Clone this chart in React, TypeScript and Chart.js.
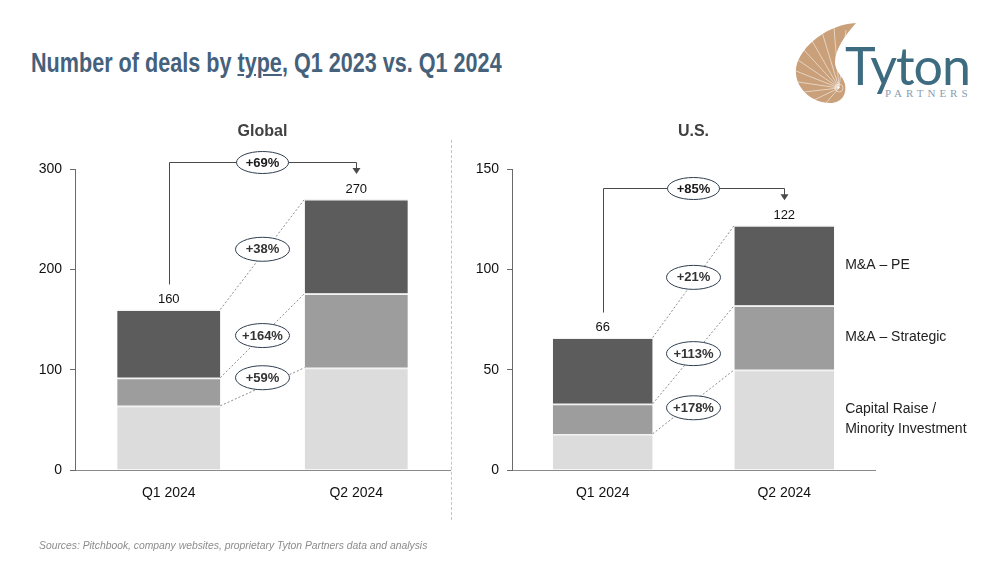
import React, { useEffect, useRef } from "react";
import { Chart, registerables } from "chart.js";

Chart.register(...registerables);

// ---------- data ----------
const categories = ["Q1 2024", "Q2 2024"];
const seriesNames = ["Capital Raise / Minority Investment", "M&A – Strategic", "M&A – PE"];
const legendLines = [["Capital Raise /", "Minority Investment"], ["M&A – Strategic"], ["M&A – PE"]];

const globalCapital = [64, 102];
const globalStrategic = [28, 74];
const globalPE = [68, 94];
const globalTotals = [160, 270];
const globalSegmentGrowth = ["+59%", "+164%", "+38%"];
const globalTotalGrowth = "+69%";
const globalTicks = [0, 100, 200, 300];

const usCapital = [18, 50];
const usStrategic = [15, 32];
const usPE = [33, 40];
const usTotals = [66, 122];
const usSegmentGrowth = ["+178%", "+113%", "+21%"];
const usTotalGrowth = "+85%";
const usTicks = [0, 50, 100, 150];

const seriesColors = ["#dcdcdc", "#9d9d9d", "#5c5c5c"];

const FONT = '"Liberation Sans", Arial, Helvetica, sans-serif';
const f = (weight: string, size: number, style = "") => `${style} ${weight} ${size}px ${FONT}`.trim();

type Cfg = {
  subtitle: string;
  series: number[][];
  totals: number[];
  segGrowth: string[];
  totalGrowth: string;
  ticks: number[];
  bracketValue: number;
  ellipseOffsets: number[];
  yWidth: number;
  rightPad: number;
  legend: boolean;
};

function drawEllipseLabel(ctx: CanvasRenderingContext2D, x: number, y: number, rx: number, ry: number, text: string, color: string) {
  ctx.save();
  ctx.setLineDash([]);
  ctx.beginPath();
  ctx.ellipse(x, y, rx, ry, 0, 0, Math.PI * 2);
  ctx.fillStyle = "#ffffff";
  ctx.fill();
  ctx.lineWidth = 1;
  ctx.strokeStyle = "#2f3d4f";
  ctx.stroke();
  ctx.fillStyle = color;
  ctx.font = f("bold", 13);
  ctx.textAlign = "center";
  ctx.textBaseline = "middle";
  ctx.fillText(text, x, y + 0.5);
  ctx.restore();
}

function annotationPlugin(cfg: Cfg) {
  return {
    id: "dealAnnotations",
    afterDatasetsDraw(chart: any) {
      const ctx: CanvasRenderingContext2D = chart.ctx;
      const area = chart.chartArea;
      const ys = chart.scales.y;
      const metas = [0, 1, 2].map((i) => chart.getDatasetMeta(i).data as any[]);
      ctx.save();

      // subtitle
      ctx.fillStyle = "#404040";
      ctx.font = f("bold", 16);
      ctx.textAlign = "center";
      ctx.textBaseline = "middle";
      ctx.fillText(cfg.subtitle, (area.left + area.right) / 2, area.top - 37);

      // dashed connectors between segment tops
      const mids: number[][] = [];
      for (let k = 0; k < 3; k++) {
        const a = metas[k][0];
        const b = metas[k][1];
        const x0 = a.x + a.width / 2;
        const y0 = a.y;
        const x1 = b.x - b.width / 2;
        const y1 = b.y;
        ctx.setLineDash([2, 2]);
        ctx.strokeStyle = "#6e6e6e";
        ctx.lineWidth = 0.8;
        ctx.beginPath();
        ctx.moveTo(x0, y0);
        ctx.lineTo(x1, y1);
        ctx.stroke();
        mids.push([(x0 + x1) / 2, (y0 + y1) / 2 + cfg.ellipseOffsets[k]]);
      }
      ctx.setLineDash([]);
      for (let k = 0; k < 3; k++) {
        drawEllipseLabel(ctx, mids[k][0], mids[k][1], 27, 12, cfg.segGrowth[k], "#333333");
      }

      // totals
      const tops = [0, 1].map((j) => metas[2][j].y);
      const cx = [0, 1].map((j) => metas[2][j].x);
      ctx.fillStyle = "#111111";
      ctx.font = f("normal", 13);
      ctx.textAlign = "center";
      ctx.textBaseline = "middle";
      for (let j = 0; j < 2; j++) {
        ctx.fillText(String(cfg.totals[j]), cx[j], tops[j] - 10);
      }

      // bracket arrow
      const by = Math.round(ys.getPixelForValue(cfg.bracketValue)) + 0.5;
      const startY = tops[0] - 25;
      const tipY = tops[1] - 25;
      const x0 = Math.round(cx[0]) + 0.5;
      const x1 = Math.round(cx[1]) + 0.5;
      ctx.strokeStyle = "#4a4a4a";
      ctx.lineWidth = 1;
      ctx.beginPath();
      ctx.moveTo(x0, startY);
      ctx.lineTo(x0, by);
      ctx.lineTo(x1, by);
      ctx.lineTo(x1, tipY - 5);
      ctx.stroke();
      ctx.fillStyle = "#4a4a4a";
      ctx.beginPath();
      ctx.moveTo(x1 - 4, tipY - 6);
      ctx.lineTo(x1 + 4, tipY - 6);
      ctx.lineTo(x1, tipY);
      ctx.closePath();
      ctx.fill();
      drawEllipseLabel(ctx, (cx[0] + cx[1]) / 2, by, 26, 11, cfg.totalGrowth, "#1a1a1a");

      // right-side legend
      if (cfg.legend) {
        ctx.fillStyle = "#222222";
        ctx.font = f("normal", 14);
        ctx.textAlign = "left";
        ctx.textBaseline = "middle";
        for (let k = 0; k < 3; k++) {
          const b = metas[k][1];
          const midY = (b.y + b.base) / 2;
          const lx = b.x + b.width / 2 + 11;
          const lines = legendLines[k];
          const start = midY - ((lines.length - 1) * 20) / 2;
          lines.forEach((ln, i) => ctx.fillText(ln, lx, start + i * 20));
        }
      }
      ctx.restore();
    },
  };
}

function StackedChart(props: { cfg: Cfg; left: number; width: number }) {
  const ref = useRef<HTMLCanvasElement | null>(null);
  const { cfg, left, width } = props;
  useEffect(() => {
    if (!ref.current) return;
    const chart = new Chart(ref.current, {
      type: "bar",
      data: {
        labels: categories,
        datasets: cfg.series.map((vals, i) => ({
          label: seriesNames[i],
          data: vals,
          backgroundColor: seriesColors[i],
          borderColor: "#f2f2f2",
          borderWidth: { top: 1.5, left: 0, right: 0, bottom: 0 },
          borderSkipped: false,
          barPercentage: 1,
          categoryPercentage: 0.55,
        })),
      },
      options: {
        responsive: false,
        animation: false,
        devicePixelRatio: 1,
        layout: { padding: { left: 0, top: 169, right: cfg.rightPad, bottom: 63 } },
        plugins: { legend: { display: false }, tooltip: { enabled: false }, title: { display: false } },
        scales: {
          x: {
            stacked: true,
            grid: { display: false },
            border: { display: true, color: "#8a8a8a", width: 1 },
            ticks: { color: "#111111", font: { family: FONT, size: 14 }, padding: 7 },
            afterFit: (s: any) => {
              s.height = 30;
            },
          },
          y: {
            stacked: true,
            min: cfg.ticks[0],
            max: cfg.ticks[cfg.ticks.length - 1],
            afterBuildTicks: (s: any) => {
              s.ticks = cfg.ticks.map((v) => ({ value: v }));
            },
            grid: { drawOnChartArea: false, drawTicks: true, tickLength: 5, color: "#6a6a6a" },
            border: { display: true, color: "#6a6a6a", width: 1 },
            ticks: { color: "#111111", font: { family: FONT, size: 14 }, padding: 8 },
            afterFit: (s: any) => {
              s.width = cfg.yWidth;
            },
          },
        },
      },
      plugins: [annotationPlugin(cfg)],
    } as any);
    return () => chart.destroy();
  }, []);
  return (
    <canvas
      ref={ref}
      width={width}
      height={563}
      style={{ position: "absolute", left, top: 0, width, height: 563 }}
    />
  );
}

const globalCfg: Cfg = {
  subtitle: "Global",
  series: [globalCapital, globalStrategic, globalPE],
  totals: globalTotals,
  segGrowth: globalSegmentGrowth,
  totalGrowth: globalTotalGrowth,
  ticks: globalTicks,
  bracketValue: 307,
  ellipseOffsets: [-9, 0, -5],
  yWidth: 75,
  rightPad: 10,
  legend: false,
};

const usCfg: Cfg = {
  subtitle: "U.S.",
  series: [usCapital, usStrategic, usPE],
  totals: usTotals,
  segGrowth: usSegmentGrowth,
  totalGrowth: usTotalGrowth,
  ticks: usTicks,
  bracketValue: 140.5,
  ellipseOffsets: [6, -1, -4],
  yWidth: 52,
  rightPad: 125,
  legend: true,
};

const ridgeEnds = [
  [846, 30],
  [834, 28],
  [822, 32],
  [811, 39],
  [803, 49],
  [798, 60],
  [796, 71],
  [798, 82],
  [804, 92],
  [814, 100],
  [826, 103],
];

function Logo() {
  return (
    <div style={{ position: "absolute", left: 780, top: 20, width: 210, height: 90 }}>
      <svg width={90} height={90} viewBox="780 20 90 90" style={{ position: "absolute", left: 0, top: 0 }}>
        <path
          d="M 856 23 C 830 24, 800 45, 796 68 C 794 88, 812 104, 832 103 C 842 102, 847 94, 845 84 C 843 76, 835 72, 835 62 C 835 50, 845 35, 856 23 Z"
          fill="#c9a07a"
        />
        {ridgeEnds.map((p, i) => (
          <line key={i} x1={839} y1={88} x2={p[0]} y2={p[1]} stroke="#ffffff" strokeWidth={0.9} opacity={0.6} />
        ))}
        <circle cx={839} cy={88} r={4} fill="none" stroke="#ffffff" strokeWidth={0.8} opacity={0.6} />
      </svg>
      <div
        style={{
          position: "absolute",
          left: 65,
          top: 19,
          fontFamily: "Lato, 'Open Sans', sans-serif",
          fontSize: 52,
          lineHeight: "52px",
          color: "#3d6b80",
          letterSpacing: -1,
        }}
      >
        Tyton
      </div>
      <div
        style={{
          position: "absolute",
          left: 105,
          top: 68,
          fontFamily: "'Liberation Serif', 'DejaVu Serif', serif",
          fontSize: 11,
          lineHeight: "11px",
          color: "#8a9db0",
          letterSpacing: 4,
        }}
      >
        PARTNERS
      </div>
    </div>
  );
}

export default function App() {
  return (
    <div
      style={{
        position: "absolute",
        left: 0,
        top: 0,
        width: 1000,
        height: 563,
        background: "#ffffff",
        overflow: "hidden",
        fontFamily: FONT,
      }}
    >
      <div
        style={{
          position: "absolute",
          left: 31,
          top: 50,
          fontSize: 27,
          lineHeight: "27px",
          fontWeight: "bold",
          color: "#45617b",
          whiteSpace: "nowrap",
          transform: "scaleX(0.8)",
          transformOrigin: "left top",
        }}
      >
        Number of deals by <span style={{ textDecoration: "underline" }}>type</span>, Q1 2023 vs. Q1 2024
      </div>
      <Logo />
      <StackedChart cfg={globalCfg} left={0} width={460} />
      <StackedChart cfg={usCfg} left={460} width={540} />
      <div
        style={{
          position: "absolute",
          left: 451,
          top: 140,
          height: 380,
          width: 0,
          borderLeft: "1px dashed #c4c4c4",
        }}
      />
      <div
        style={{
          position: "absolute",
          left: 39,
          top: 538,
          fontSize: 11,
          lineHeight: "14px",
          fontStyle: "italic",
          color: "#8c8c8c",
          whiteSpace: "nowrap",
          transform: "scaleX(0.94)",
          transformOrigin: "left top",
        }}
      >
        Sources: Pitchbook, company websites, proprietary Tyton Partners data and analysis
      </div>
    </div>
  );
}
